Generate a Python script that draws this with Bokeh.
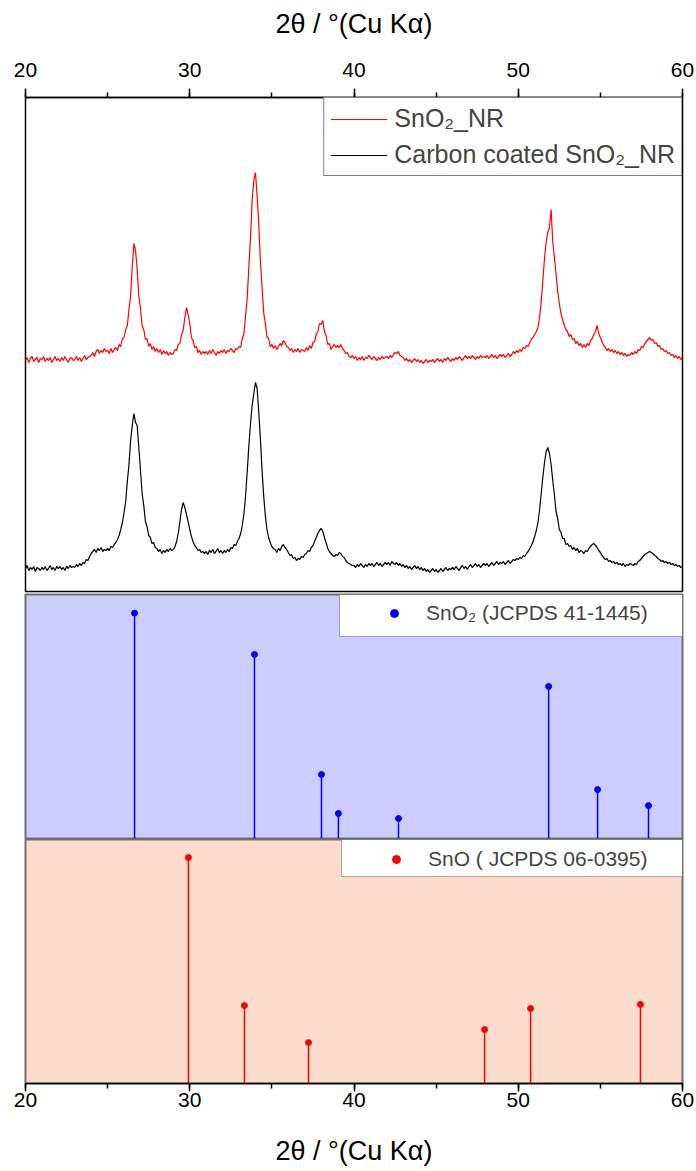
from bokeh.plotting import figure
from bokeh.models import (Range1d, SingleIntervalTicker, Legend, LegendItem,
                          ColumnDataSource, BoxAnnotation)
from bokeh.layouts import column
from bokeh.embed import file_html
from bokeh.resources import INLINE

FONT = "Liberation Sans"

# ---------------- data ----------------
# 2-theta scan grid (20..60 deg, 0.1 deg step)
two_theta = [round(20 + 0.1 * i, 1) for i in range(401)]

# intensity (a.u.) of SnO2_NR
sno2_nr = [
    233, 236, 231, 235, 237, 232, 234, 236, 231, 235,
    234, 237, 232, 235, 233, 236, 231, 234, 237, 233,
    235, 232, 236, 233, 237, 234, 231, 235, 236, 233,
    234, 237, 233, 236, 232, 235, 238, 234, 236, 237,
    238, 241, 237, 242, 244, 240, 243, 241, 245, 242,
    243, 240, 245, 241, 244, 246, 243, 249, 247, 255,
    256, 264, 268, 284, 298, 327, 350, 343, 324, 297,
    285, 268, 264, 254, 255, 247, 250, 244, 247, 242,
    245, 241, 244, 239, 243, 240, 242, 238, 241, 239,
    240, 244, 243, 249, 250, 259, 263, 276, 286, 279,
    270, 256, 253, 246, 247, 241, 243, 239, 242, 240,
    242, 239, 243, 240, 244, 241, 238, 242, 240, 243,
    241, 244, 240, 243, 242, 245, 243, 241, 245, 244,
    247, 246, 255, 260, 278, 296, 327, 356, 394, 413,
    421, 398, 370, 333, 307, 281, 270, 257, 255, 247,
    249, 245, 248, 244, 247, 250, 248, 253, 251, 247,
    246, 243, 245, 241, 244, 242, 245, 241, 244, 243,
    242, 246, 243, 248, 245, 251, 252, 259, 262, 270,
    269, 273, 262, 258, 249, 250, 244, 247, 249, 246,
    248, 246, 249, 245, 243, 240, 241, 237, 236, 238,
    235, 237, 233, 236, 234, 237, 233, 236, 235, 238,
    236, 234, 237, 235, 233, 236, 234, 237, 235, 236,
    237, 235, 238, 236, 239, 241, 240, 242, 238, 237,
    236, 233, 235, 232, 234, 231, 233, 235, 232, 234,
    231, 233, 230, 232, 234, 231, 233, 232, 234, 231,
    233, 235, 232, 234, 231, 235, 233, 236, 234, 232,
    235, 233, 236, 234, 237, 235, 233, 236, 238, 235,
    237, 235, 238, 236, 234, 237, 235, 238, 236, 237,
    236, 238, 235, 237, 239, 236, 238, 235, 237, 239,
    237, 239, 236, 238, 240, 237, 239, 242, 240, 243,
    241, 244, 242, 246, 245, 248, 247, 251, 254, 256,
    259, 262, 266, 276, 292, 314, 335, 352, 361, 366,
    384, 352, 336, 320, 302, 290, 280, 274, 268, 264,
    262, 257, 259, 254, 255, 250, 252, 248, 250, 246,
    249, 246, 250, 248, 253, 255, 259, 262, 268, 260,
    256, 252, 248, 246, 243, 245, 242, 244, 241, 243,
    240, 242, 239, 241, 238, 240, 237, 239, 238, 241,
    239, 242, 240, 244, 243, 247, 246, 250, 252, 254,
    256, 253, 254, 250, 251, 247, 248, 244, 245, 242,
    243, 240, 241, 238, 239, 236, 238, 235, 237, 234,
    236,
]

# intensity (a.u.) of carbon coated SnO2_NR
c_sno2_nr = [
    25, 28, 23, 26, 24, 27, 22, 26, 25, 23,
    26, 24, 27, 23, 25, 28, 24, 26, 23, 27,
    25, 27, 24, 26, 23, 27, 25, 28, 26, 27,
    26, 29, 27, 30, 28, 31, 30, 34, 33, 37,
    40, 42, 44, 41, 45, 43, 46, 42, 44, 43,
    45, 43, 47, 46, 49, 51, 54, 58, 64, 71,
    81, 92, 112, 129, 153, 168, 180, 171, 168, 146,
    123, 100, 88, 72, 67, 58, 56, 50, 51, 46,
    45, 42, 44, 40, 43, 41, 44, 42, 45, 43,
    44, 47, 52, 60, 72, 84, 91, 86, 79, 72,
    64, 57, 52, 48, 46, 43, 44, 41, 42, 40,
    42, 39, 43, 41, 44, 40, 42, 45, 41, 43,
    40, 43, 41, 44, 42, 46, 45, 49, 48, 52,
    55, 60, 68, 80, 98, 122, 148, 170, 188, 200,
    211, 205, 182, 155, 124, 98, 78, 64, 56, 51,
    47, 45, 44, 41, 45, 43, 47, 49, 46, 44,
    41, 38, 39, 35, 36, 33, 35, 34, 37, 36,
    39, 40, 43, 42, 46, 48, 52, 56, 60, 63,
    65, 62, 56, 51, 45, 42, 40, 38, 37, 39,
    38, 41, 40, 37, 36, 33, 31, 30, 29, 28,
    28, 26, 29, 27, 30, 28, 26, 29, 27, 30,
    28, 30, 27, 29, 31, 28, 30, 27, 29, 31,
    29, 31, 28, 32, 30, 29, 31, 28, 30, 27,
    29, 26, 28, 25, 27, 24, 26, 28, 25, 27,
    24, 26, 23, 25, 22, 24, 21, 23, 25, 22,
    24, 21, 23, 25, 22, 24, 26, 23, 25, 24,
    26, 24, 27, 25, 23, 26, 28, 25, 27, 24,
    27, 29, 26, 28, 30, 27, 29, 26, 28, 30,
    28, 30, 27, 29, 31, 28, 30, 32, 29, 31,
    30, 32, 29, 31, 33, 30, 32, 34, 33, 35,
    34, 36, 35, 38, 37, 40, 42, 45, 48, 52,
    57, 63, 71, 84, 100, 117, 131, 142, 146, 140,
    129, 113, 99, 82, 75, 64, 61, 55, 55, 49,
    50, 47, 48, 44, 46, 43, 45, 41, 43, 42,
    40, 43, 42, 45, 47, 49, 50, 48, 46, 43,
    41, 38, 36, 34, 35, 32, 33, 31, 32, 30,
    31, 29, 30, 28, 30, 27, 29, 28, 30, 29,
    28, 30, 29, 32, 33, 35, 37, 39, 40, 41,
    42, 41, 40, 38, 37, 35, 34, 32, 33, 31,
    32, 30, 31, 29, 30, 28, 29, 27, 28, 26,
    27,
]

# reference patterns
sno2_ref_pos = [26.64, 33.94, 38.02, 39.05, 42.71, 51.85, 54.83, 57.93]
sno2_ref_int = [100.0, 81.7, 28.4, 11.1, 8.9, 67.5, 21.7, 14.6]

sno_ref_pos = [29.92, 33.33, 37.23, 47.95, 50.75, 57.44]
sno_ref_int = [100.0, 34.5, 18.1, 23.9, 33.2, 35.0]

x_ticks_interval = 10
axis_title = "2θ / °(Cu Kα)"

# ---------------- figures ----------------
x_range = Range1d(20, 60)


def style_axis(ax, label_standoff, major_standoff, tick_out):
    ax.ticker = SingleIntervalTicker(interval=x_ticks_interval, num_minor_ticks=2)
    ax.axis_label = axis_title
    ax.axis_label_text_font = FONT
    ax.axis_label_text_font_size = "27px"
    ax.axis_label_text_font_style = "normal"
    ax.axis_label_text_color = "black"
    ax.axis_label_standoff = label_standoff
    ax.major_label_text_font = FONT
    ax.major_label_text_font_size = "21px"
    ax.major_label_text_color = "black"
    ax.major_label_standoff = major_standoff
    ax.major_tick_out = tick_out
    ax.major_tick_in = 0
    ax.minor_tick_out = 5
    ax.minor_tick_in = 0
    ax.axis_line_width = 1.5
    ax.major_tick_line_width = 1.5
    ax.minor_tick_line_width = 1.5
    ax.axis_line_color = "black"
    ax.major_tick_line_color = "black"
    ax.minor_tick_line_color = "black"


# --- top: measured patterns
p1 = figure(width=696, height=593, x_range=x_range, y_range=Range1d(2, 496),
            output_backend="svg", toolbar_location=None,
            x_axis_location="above", y_axis_location=None,
            min_border_left=25, min_border_right=14,
            min_border_top=97, min_border_bottom=2)
p1.grid.visible = False
p1.outline_line_color = "black"
p1.outline_line_width = 1.5
style_axis(p1.xaxis[0], 21, 12, 9)

src = ColumnDataSource(dict(x=two_theta, a=sno2_nr, b=c_sno2_nr))
r_red = p1.line("x", "a", source=src, line_color="#FF0000", line_width=1.2)
r_blk = p1.line("x", "b", source=src, line_color="black", line_width=1.2)

leg1 = Legend(items=[LegendItem(label="SnO₂_NR", renderers=[r_red]),
                     LegendItem(label="Carbon coated SnO₂_NR", renderers=[r_blk])],
              location="top_right", margin=0, padding=6, spacing=7,
              glyph_width=57, label_standoff=7,
              label_text_font=FONT, label_text_font_size="25px",
              border_line_color="black", border_line_width=1,
              background_fill_alpha=1.0)
p1.add_layout(leg1)

# --- middle: SnO2 reference
p2 = figure(width=696, height=246, x_range=x_range, y_range=Range1d(0, 108.3),
            output_backend="svg", toolbar_location=None,
            x_axis_location=None, y_axis_location=None,
            min_border_left=25, min_border_right=14,
            min_border_top=1, min_border_bottom=1,
            background_fill_color="#CCCCFF", border_fill_color="white")
p2.grid.visible = False
p2.outline_line_color = "#6E6E6E"
p2.outline_line_width = 2
s2 = ColumnDataSource(dict(x=sno2_ref_pos, y=sno2_ref_int, y0=[0] * len(sno2_ref_pos)))
p2.segment("x", "y0", "x", "y", source=s2, line_color="#0000FF", line_width=1.5)
r2 = p2.scatter("x", "y", source=s2, size=6, color="#0000FF")
p2.add_layout(BoxAnnotation(left=39.12, right=60, bottom=89.66, top=108.3,
                            fill_color="white", fill_alpha=1.0,
                            line_color="black", line_width=1))
leg2 = Legend(items=[LegendItem(label="SnO₂ (JCPDS 41-1445)", renderers=[r2])],
              location=(359, 213), margin=0, padding=0, spacing=0,
              glyph_width=20, glyph_height=20, label_standoff=22,
              label_text_font=FONT, label_text_font_size="21px",
              border_line_alpha=0, background_fill_alpha=0)
p2.add_layout(leg2)

# --- bottom: SnO reference
p3 = figure(width=696, height=332, x_range=x_range, y_range=Range1d(0, 108.0),
            output_backend="svg", toolbar_location=None,
            x_axis_location="below", y_axis_location=None,
            min_border_left=25, min_border_right=14,
            min_border_top=0, min_border_bottom=88,
            background_fill_color="#FCDDCD", border_fill_color="white")
p3.grid.visible = False
p3.outline_line_color = "#6E6E6E"
p3.outline_line_width = 2
style_axis(p3.xaxis[0], 26, 1, 8)
s3 = ColumnDataSource(dict(x=sno_ref_pos, y=sno_ref_int, y0=[0] * len(sno_ref_pos)))
p3.segment("x", "y0", "x", "y", source=s3, line_color="#FF0000", line_width=1.5)
r3 = p3.scatter("x", "y", source=s3, size=6, color="#FF0000")
p3.add_layout(BoxAnnotation(left=39.24, right=60, bottom=91.6, top=108.0,
                            fill_color="white", fill_alpha=1.0,
                            line_color="black", line_width=1))
leg3 = Legend(items=[LegendItem(label="SnO ( JCPDS 06-0395)", renderers=[r3])],
              location=(361, 212), margin=0, padding=0, spacing=0,
              glyph_width=20, glyph_height=20, label_standoff=22,
              label_text_font=FONT, label_text_font_size="21px",
              border_line_alpha=0, background_fill_alpha=0)
p3.add_layout(leg3)

layout = column(p1, p2, p3, spacing=0)

open("out.html", "w").write(file_html(layout, INLINE))
